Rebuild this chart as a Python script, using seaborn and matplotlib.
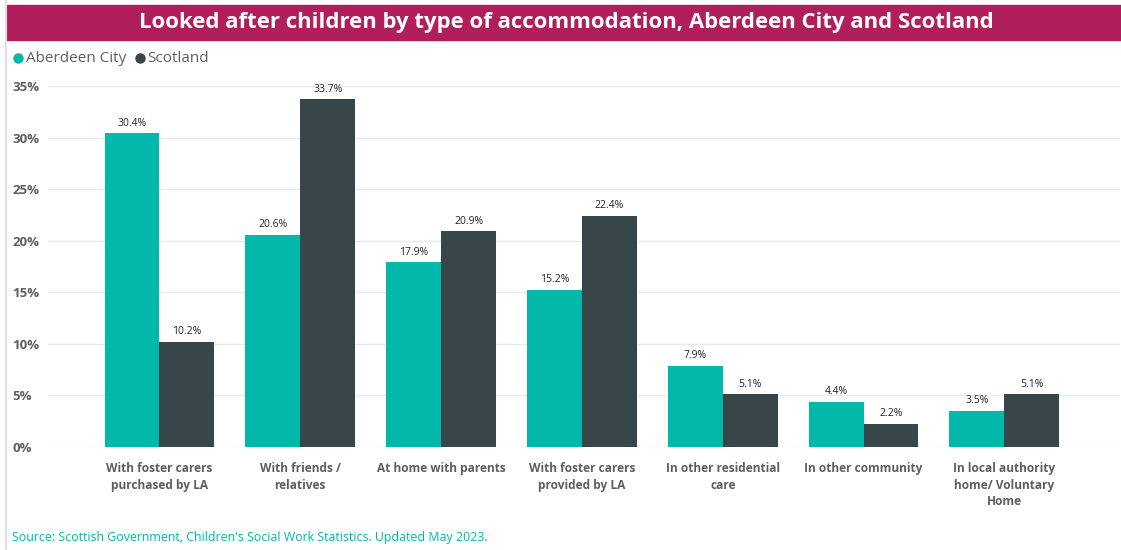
import matplotlib
matplotlib.use("Agg")
import matplotlib.pyplot as plt
import seaborn as sns
import pandas as pd
from matplotlib.patches import Rectangle
from matplotlib.lines import Line2D

categories = [
    "With foster carers\npurchased by LA",
    "With friends /\nrelatives",
    "At home with parents",
    "With foster carers\nprovided by LA",
    "In other residential\ncare",
    "In other community",
    "In local authority\nhome/ Voluntary\nHome",
]
aberdeen = [30.4, 20.6, 17.9, 15.2, 7.9, 4.4, 3.5]
scotland = [10.2, 33.7, 20.9, 22.4, 5.1, 2.2, 5.1]
series_names = ["Aberdeen City", "Scotland"]
y_ticks = [0, 5, 10, 15, 20, 25, 30, 35]

TEAL = "#01B8AA"
DARK = "#374649"
MAGENTA = "#B01F5B"
GRAY = "#605E5C"

df = pd.DataFrame({
    "category": categories * 2,
    "value": aberdeen + scotland,
    "series": [series_names[0]] * len(categories) + [series_names[1]] * len(categories),
})

sns.set_theme(style="white")
plt.rcParams["font.family"] = ["Open Sans", "DejaVu Sans"]

fig = plt.figure(figsize=(11.21, 5.5), dpi=100)
ax = fig.add_axes([0.043, 0.1873, 0.956, 0.6563])

sns.barplot(data=df, x="category", y="value", hue="series", order=categories,
            hue_order=series_names, palette=[TEAL, DARK], width=0.78,
            dodge=True, saturation=1, ax=ax, legend=False, linewidth=0)

for container in ax.containers:
    ax.bar_label(container, labels=[f"{v:.1f}%" for v in container.datavalues],
                 padding=3.5, fontsize=7.5, color="#252423")

ax.set_ylim(0, 35)
ax.set_xlim(-0.79, 6.82)
ax.set_yticks(y_ticks)
ax.set_yticklabels([f"{t}%" for t in y_ticks], fontsize=9.5, fontweight="bold", color=GRAY)
ax.set_xticks(range(len(categories)))
ax.set_xticklabels(categories, fontsize=8.6, fontweight="bold", color=GRAY, linespacing=1.35, va="top")
ax.tick_params(axis="x", length=0, pad=11)
ax.tick_params(axis="y", length=0, pad=26)
ax.set_xlabel("")
ax.set_ylabel("")
ax.grid(axis="y", color="#EAEAEA", linewidth=1)
ax.set_axisbelow(True)
for s in ax.spines.values():
    s.set_visible(False)
for lbl in ax.get_yticklabels():
    lbl.set_horizontalalignment("left")

# Title band
fig.patches.append(Rectangle((7 / 1121, 1 - 40 / 550), 1 - 7 / 1121, 35 / 550,
                             transform=fig.transFigure, color=MAGENTA, zorder=0))
fig.text(0.505, 1 - 22.5 / 550, "Looked after children by type of accommodation, Aberdeen City and Scotland",
         ha="center", va="center", color="white", fontsize=15.9, fontweight="bold")

# Left border line
fig.lines.append(Line2D([5.5 / 1121, 5.5 / 1121], [0, 1], transform=fig.transFigure,
                        color="#E0E0E0", linewidth=1.5))

# Legend
lx = 18 / 1121
ly = 1 - 58 / 550
fig.lines.append(Line2D([lx], [ly], marker="o", markersize=6.5, color=TEAL,
                        transform=fig.transFigure, linestyle="none"))
fig.text(26 / 1121, ly, series_names[0], ha="left", va="center", fontsize=11, color=GRAY)
lx2 = 140 / 1121
fig.lines.append(Line2D([lx2], [ly], marker="o", markersize=6.5, color=DARK,
                        transform=fig.transFigure, linestyle="none"))
fig.text(147 / 1121, ly, series_names[1], ha="left", va="center", fontsize=11, color=GRAY)

# Source
fig.text(12 / 1121, 1 - 538 / 550,
         "Source: Scottish Government, Children's Social Work Statistics. Updated May 2023.",
         ha="left", va="center", fontsize=8.9, color=TEAL)

fig.savefig("out.png", dpi=100)
